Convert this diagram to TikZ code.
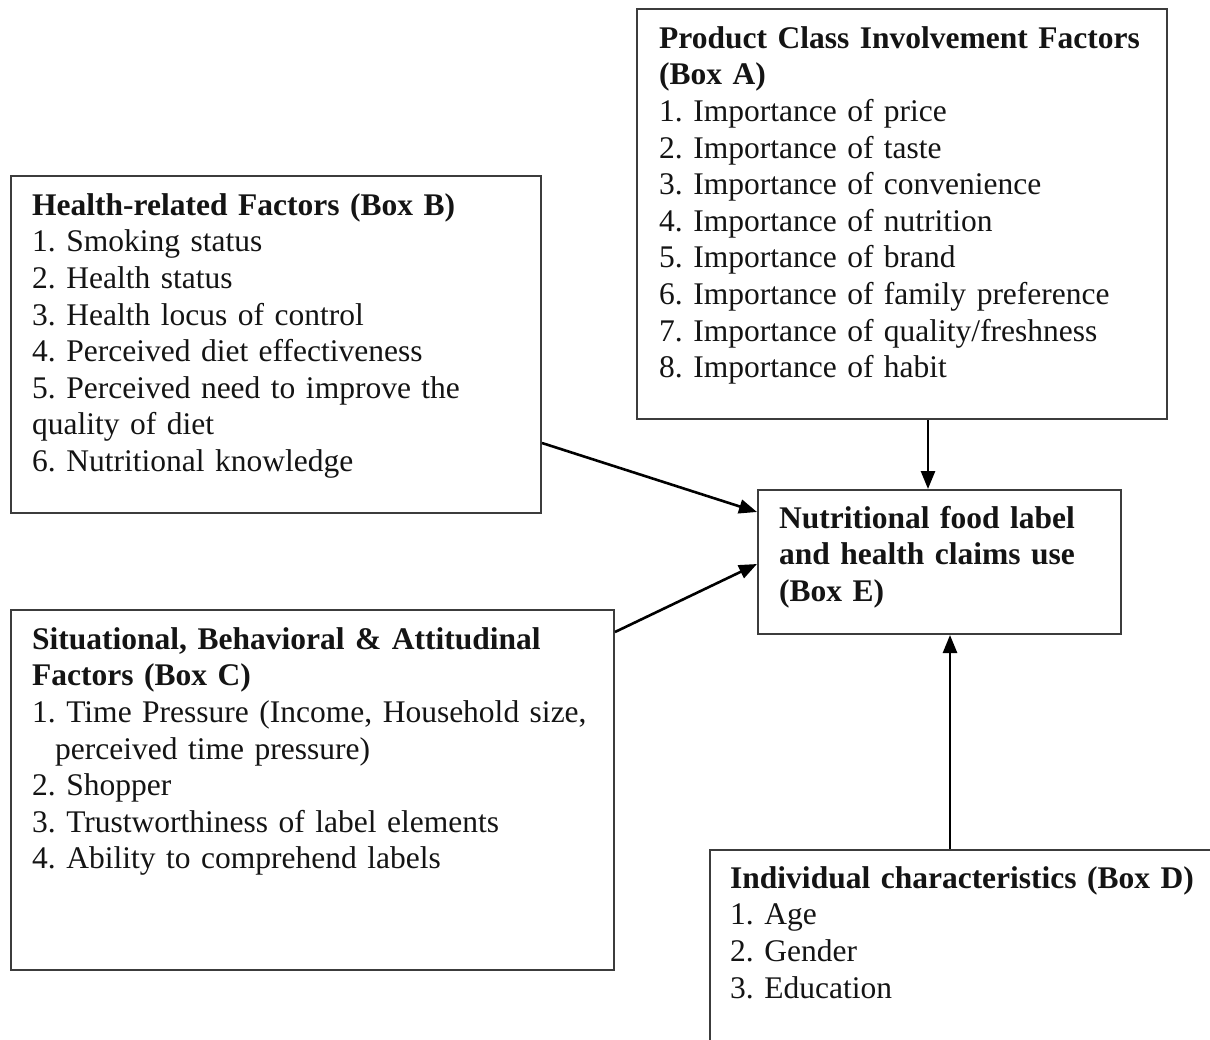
\documentclass[tikz,border=0pt]{standalone}
\usepackage{fontspec}
\setmainfont{Liberation Serif}
\usetikzlibrary{arrows.meta,calc}
\definecolor{boxline}{HTML}{3C3C3C}
\definecolor{ink}{HTML}{141414}
\frenchspacing
\tikzset{
  boxnode/.style={draw=boxline, line width=2pt, rectangle, inner sep=0pt, anchor=north west},
  txt/.style={anchor=north west, inner sep=0pt, align=left, text width=600pt, text=ink,
    font=\fontsize{31.5}{36.6}\selectfont\frenchspacing},
  conn/.style={line width=2.6pt, draw=black, -{Triangle[length=18pt,width=14pt]}}
}
\begin{document}
\begin{tikzpicture}[x=1pt,y=-1pt]
\useasboundingbox (0,0) rectangle (1210,1039);
\clip (0,0) rectangle (1210,1039);
\fill[white] (0,0) rectangle (1210,1039);

% boxes
\node[boxnode, minimum width=530pt, minimum height=410pt] (A) at (636,8) {};
\node[boxnode, minimum width=530pt, minimum height=337pt] (B) at (10,175) {};
\node[boxnode, minimum width=603pt, minimum height=360pt] (C) at (10,609) {};
\node[boxnode, minimum width=363pt, minimum height=144pt] (E) at (757,489) {};
\node[boxnode, minimum width=600pt, minimum height=300pt] (D) at (709,849) {};

% texts
\node[txt] (At) at ([shift={(23pt,-14.4pt)}]A.north west) {\strut\textbf{Product Class Involvement Factors}\\
\textbf{(Box A)}\\
1. Importance of price\\
2. Importance of taste\\
3. Importance of convenience\\
4. Importance of nutrition\\
5. Importance of brand\\
6. Importance of family preference\\
7. Importance of quality/freshness\\
8. Importance of habit};

\node[txt] (Bt) at ([shift={(22pt,-14.4pt)}]B.north west) {\strut\textbf{Health-related Factors (Box B)}\\
1. Smoking status\\
2. Health status\\
3. Health locus of control\\
4. Perceived diet effectiveness\\
5. Perceived need to improve the\\
quality of diet\\
6. Nutritional knowledge};

\node[txt] (Ct) at ([shift={(22pt,-14.4pt)}]C.north west) {\strut\textbf{Situational, Behavioral \& Attitudinal}\\
\textbf{Factors (Box C)}\\
1. Time Pressure (Income, Household size,\\
\hspace*{23pt}perceived time pressure)\\
2. Shopper\\
3. Trustworthiness of label elements\\
4. Ability to comprehend labels};

\node[txt] (Et) at ([shift={(22pt,-13.4pt)}]E.north west) {\strut\textbf{Nutritional food label}\\
\textbf{and health claims use}\\
\textbf{(Box E)}};

\node[txt] (Dt) at ([shift={(21pt,-13.4pt)}]D.north west) {\strut\textbf{Individual characteristics (Box D)}\\
1. Age\\
2. Gender\\
3. Education};

% connectors
\draw[conn] ([xshift=26pt]A.south) -- ([xshift=26pt]A.south |- E.north);
\draw[conn] ([xshift=241pt]D.north west) -- ([xshift=241pt]D.north west |- E.south);
\draw[conn] ([yshift=71pt]B.south east) -- ([yshift=-23pt]E.north west);
\draw[conn] ([yshift=-23pt]C.north east) -- ([yshift=-75pt]E.north west);
\end{tikzpicture}
\end{document}
